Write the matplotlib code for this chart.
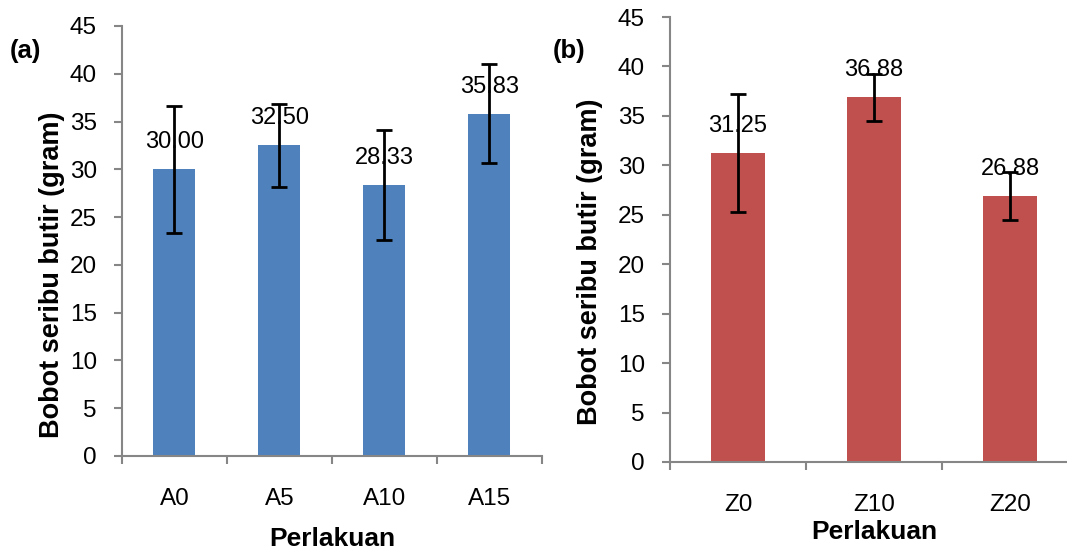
"""Bobot seribu butir per perlakuan, panel (a) dan (b)."""
import matplotlib
matplotlib.use("Agg")
import matplotlib.pyplot as plt

BLUE, RED, AXIS = "#4f81bd", "#c0504d", "#868686"
plt.rcParams.update({"font.family": "Liberation Sans", "font.size": 17.5})

# panel (a)
cat_a = ["A0", "A5", "A10", "A15"]
val_a = [30.00, 32.50, 28.33, 35.83]
err_a = [6.65, 4.30, 5.75, 5.20]

# panel (b)
cat_b = ["Z0", "Z10", "Z20"]
val_b = [31.25, 36.88, 26.88]
err_b = [5.95, 2.35, 2.40]

yticks = list(range(0, 46, 5))


def panel(ax, cats, vals, errs, color, xlab_pad, ylab_xy):
    x = list(range(len(cats)))
    ax.bar(x, vals, width=0.4, color=color, zorder=2)
    ax.errorbar(x, vals, yerr=errs, fmt="none", ecolor="black", elinewidth=2,
                capsize=6, capthick=2, zorder=3)
    for xi, v in zip(x, vals):
        ax.annotate(f"{v:.2f}", (xi, v), xytext=(0, 27), textcoords="offset pixels",
                    ha="center", va="center", fontsize=17, zorder=1)
    ax.set_xlim(-0.5, len(cats) - 0.5)
    ax.set_ylim(0, 45)
    ax.set_yticks(yticks)
    ax.set_xticks(x, cats)
    ax.set_xticks([i - 0.5 for i in range(len(cats) + 1)], minor=True)
    ax.tick_params(axis="x", which="major", length=0, pad=23)
    ax.tick_params(axis="x", which="minor", length=6, width=1.5, color=AXIS)
    ax.tick_params(axis="y", length=6, width=1.5, color=AXIS, pad=12)
    for s in ("top", "right"):
        ax.spines[s].set_visible(False)
    for s in ("left", "bottom"):
        ax.spines[s].set_color(AXIS)
        ax.spines[s].set_linewidth(1.5)
    ax.set_ylabel("Bobot seribu butir (gram)", fontsize=19.5, fontweight="bold")
    ax.yaxis.set_label_coords(*ylab_xy)
    ax.set_xlabel("Perlakuan", fontsize=19, fontweight="bold", labelpad=xlab_pad)
    return ax


fig = plt.figure(figsize=(10.67, 5.54), dpi=100)
ax1 = fig.add_axes([0.1143, 0.1769, 0.3936, 0.7762])
ax2 = fig.add_axes([0.6279, 0.1661, 0.3824, 0.8032])
panel(ax1, cat_a, val_a, err_a, BLUE, 12, (-0.136, 0.421))
panel(ax2, cat_b, val_b, err_b, RED, 3, (-0.164, 0.45))

fig.text(10 / 1067, 1 - 51 / 554, "(a)", fontsize=18.5, fontweight="bold", va="center")
fig.text(553 / 1067, 1 - 51 / 554, "(b)", fontsize=18.5, fontweight="bold", va="center")

fig.savefig("out.png", dpi=100, facecolor="white")
